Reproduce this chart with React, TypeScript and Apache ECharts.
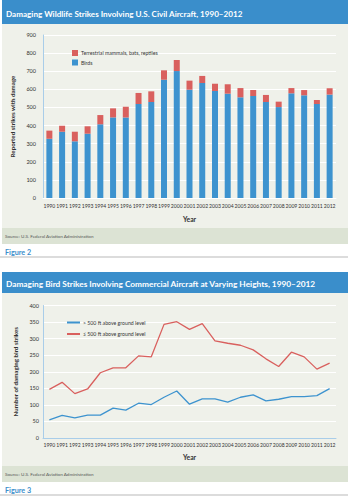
import React, { useEffect, useRef } from "react";
import * as echarts from "echarts";

const years = ["1990","1991","1992","1993","1994","1995","1996","1997","1998","1999","2000","2001","2002","2003","2004","2005","2006","2007","2008","2009","2010","2011","2012"];
const birds = [327, 366, 313, 355, 407, 445, 445, 519, 530, 653, 701, 598, 635, 591, 576, 556, 563, 530, 502, 578, 567, 519, 571];
const terrestrial = [45, 33, 53, 41, 51, 50, 59, 61, 59, 52, 61, 50, 39, 40, 52, 51, 33, 39, 30, 29, 29, 22, 35];
const above500 = [55, 68, 61, 69, 69, 90, 84, 105, 101, 123, 142, 102, 118, 118, 108, 123, 130, 112, 117, 125, 125, 128, 149];
const below500 = [147, 168, 134, 148, 197, 212, 212, 248, 245, 343, 351, 328, 345, 293, 286, 280, 266, 239, 216, 259, 245, 208, 226];

const BLUE = "#3d93cf";
const RED = "#d9605e";
const TITLE_BLUE = "#3a8ecb";
const PANEL = "#eff1ea";
const SOURCE = "#dce3d4";
const FONT = "Lato, 'Noto Sans', sans-serif";
const AXIS_BLUE = "#a9cde9";
const TEXT = "#333333";

export default function App() {
  const ref = useRef<HTMLDivElement>(null);
  useEffect(() => {
    if (!ref.current) return;
    const chart = echarts.init(ref.current, null, { renderer: "svg" });
    const xAxisCommon = (gridIndex: number, margin: number, nameGap: number, lineColor: string) => ({
      type: "category",
      gridIndex,
      data: years,
      name: "Year",
      nameLocation: "middle",
      nameGap,
      nameTextStyle: { fontFamily: FONT, fontSize: 6.8, fontWeight: "bold", color: TEXT },
      axisLine: { show: true, lineStyle: { color: lineColor, width: 1 } },
      axisTick: { show: false },
      axisLabel: { interval: 0, fontFamily: FONT, fontSize: 5.1, color: TEXT, margin },
      splitLine: { show: false },
    });
    const yAxisCommon = (gridIndex: number, max: number, interval: number, name: string, margin: number) => ({
      type: "value",
      gridIndex,
      min: 0,
      max,
      interval,
      name,
      nameLocation: "middle",
      nameRotate: 90,
      nameGap: 24,
      nameTextStyle: { fontFamily: FONT, fontSize: 6.2, fontWeight: "bold", color: TEXT },
      axisLine: { show: true, lineStyle: { color: AXIS_BLUE, width: 1 } },
      axisTick: { show: false },
      axisLabel: { fontFamily: FONT, fontSize: 5.5, color: TEXT, margin },
      splitLine: { show: true, lineStyle: { color: "#ffffff", width: 1 } },
    });

    const option = {
      animation: false,
      backgroundColor: "#ffffff",
      textStyle: { fontFamily: FONT },
      graphic: [
        { type: "rect", z: -10, shape: { x: 2, y: 0, width: 346, height: 244 }, style: { fill: PANEL } },
        { type: "rect", z: -9, shape: { x: 2, y: 0, width: 346, height: 24 }, style: { fill: TITLE_BLUE } },
        { type: "rect", z: -9, shape: { x: 2, y: 228, width: 346, height: 16 }, style: { fill: SOURCE } },
        { type: "text", z: 10, x: 6, y: 14, style: { text: "Damaging Wildlife Strikes Involving U.S. Civil Aircraft, 1990–2012", fill: "#ffffff", font: "bold 8.1px " + FONT, textVerticalAlign: "middle" } },
        { type: "text", z: 10, x: 5, y: 236, style: { text: "Source: U.S. Federal Aviation Administration", fill: "#555", font: "4.6px " + FONT, textVerticalAlign: "middle" } },
        { type: "text", z: 10, x: 5, y: 252, style: { text: "Figure 2", fill: TITLE_BLUE, font: "bold 7.2px " + FONT, textVerticalAlign: "middle" } },
        { type: "line", z: 10, shape: { x1: 0, y1: 257, x2: 348, y2: 257 }, style: { stroke: "#b9b9b9", lineWidth: 1 } },

        { type: "rect", z: -10, shape: { x: 2, y: 272, width: 346, height: 210 }, style: { fill: PANEL } },
        { type: "rect", z: -9, shape: { x: 2, y: 272, width: 346, height: 21 }, style: { fill: TITLE_BLUE } },
        { type: "rect", z: -9, shape: { x: 2, y: 466, width: 346, height: 16 }, style: { fill: SOURCE } },
        { type: "text", z: 10, x: 6, y: 284, style: { text: "Damaging Bird Strikes Involving Commercial Aircraft at Varying Heights, 1990–2012", fill: "#ffffff", font: "bold 8.3px " + FONT, textVerticalAlign: "middle" } },
        { type: "text", z: 10, x: 5, y: 474, style: { text: "Source: U.S. Federal Aviation Administration", fill: "#555", font: "4.6px " + FONT, textVerticalAlign: "middle" } },
        { type: "text", z: 10, x: 5, y: 490, style: { text: "Figure 3", fill: TITLE_BLUE, font: "bold 7.2px " + FONT, textVerticalAlign: "middle" } },
        { type: "line", z: 10, shape: { x1: 0, y1: 495, x2: 348, y2: 495 }, style: { stroke: "#b9b9b9", lineWidth: 1 } },
      ],
      grid: [
        { left: 43, right: 14, top: 35, bottom: 301 },
        { left: 43, right: 14, top: 305.5, bottom: 61 },
      ],
      legend: [
        {
          left: 67, top: 45, orient: "vertical", itemWidth: 6, itemHeight: 6, itemGap: 3.5,
          icon: "rect",
          data: ["Terrestrial mammals, bats, reptiles", "Birds"],
          textStyle: { fontFamily: FONT, fontSize: 5.2, color: TEXT, padding: [0, 0, 0, -2] },
        },
        {
          left: 62, top: 315, orient: "vertical", itemWidth: 13, itemHeight: 2, itemGap: 6.5,
          icon: "rect",
          data: ["> 500 ft above ground level", "≤ 500 ft above ground level"],
          textStyle: { fontFamily: FONT, fontSize: 5.2, color: TEXT, padding: [0, 0, 0, -2] },
        },
      ],
      xAxis: [xAxisCommon(0, 5, 17, "#ffffff"), xAxisCommon(1, 4, 15, AXIS_BLUE)],
      yAxis: [
        yAxisCommon(0, 900, 100, "Reported strikes with damage", 7),
        yAxisCommon(1, 400, 50, "Number of damaging bird strikes", 4),
      ],
      series: [
        { name: "Birds", type: "bar", stack: "s", xAxisIndex: 0, yAxisIndex: 0, data: birds, barWidth: 6, itemStyle: { color: BLUE } },
        { name: "Terrestrial mammals, bats, reptiles", type: "bar", stack: "s", xAxisIndex: 0, yAxisIndex: 0, data: terrestrial, barWidth: 6, itemStyle: { color: RED } },
        { name: "> 500 ft above ground level", type: "line", xAxisIndex: 1, yAxisIndex: 1, data: above500, symbol: "none", lineStyle: { color: BLUE, width: 1.3 }, itemStyle: { color: BLUE } },
        { name: "≤ 500 ft above ground level", type: "line", xAxisIndex: 1, yAxisIndex: 1, data: below500, symbol: "none", lineStyle: { color: RED, width: 1.3 }, itemStyle: { color: RED } },
      ],
    };
    chart.setOption(option as any);
    return () => chart.dispose();
  }, []);
  return <div ref={ref} style={{ position: "fixed", left: 0, top: 0, width: 350, height: 499 }} />;
}
